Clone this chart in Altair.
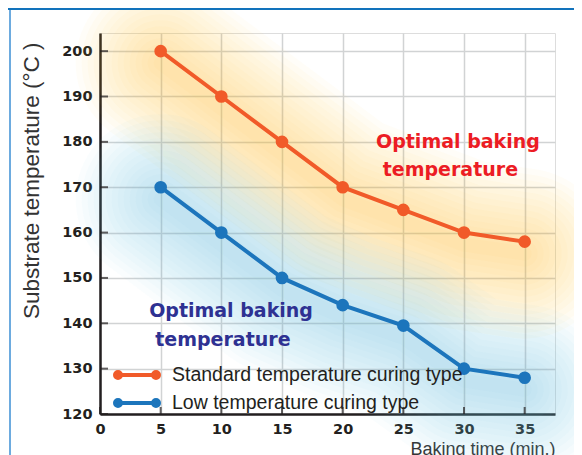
import altair as alt
import pandas as pd

# ---- data ----
time_min = [5, 10, 15, 20, 25, 30, 35]
standard_temp = [200, 190, 180, 170, 165, 160, 158]
low_temp = [170, 160, 150, 144, 139.5, 130, 128]
series_names = ["Standard temperature curing type", "Low temperature curing type"]
series_colors = ["#f15a29", "#1c75bc"]

x_ticks = [0, 5, 10, 15, 20, 25, 30, 35]
y_ticks = [120, 130, 140, 150, 160, 170, 180, 190, 200]

ann_text = ["Optimal baking", "temperature", "Optimal baking", "temperature"]
ann_x = [22.75, 23.3, 4.05, 4.55]
ann_y = [180.0, 173.9, 142.6, 136.4]
ann_color = ["#ec1c24", "#ec1c24", "#2e3192", "#2e3192"]

rows = []
for t, s in zip(time_min, standard_temp):
    rows.append({"time": t, "temp": s, "series": series_names[0]})
for t, s in zip(time_min, low_temp):
    rows.append({"time": t, "temp": s, "series": series_names[1]})
df = pd.DataFrame(rows)
ann = pd.DataFrame({"x": ann_x, "y": ann_y, "text": ann_text, "c": ann_color})
xt = pd.DataFrame({"v": x_ticks})
yt = pd.DataFrame({"v": y_ticks})

W, H = 455, 381
xs = alt.Scale(domain=[0, 37.5], nice=False, zero=False)
ys = alt.Scale(domain=[120, 204], nice=False, zero=False)
cs = alt.Scale(domain=series_names, range=series_colors)

x_axis = alt.Axis(
    values=x_ticks, title="Baking time (min.)", grid=True, gridColor="#d1d3d4", gridWidth=1.5,
    domainColor="#231f20", domainWidth=2.5, ticks=False,
    labelFont="DejaVu Sans", labelFontWeight="bold", labelFontSize=14.5, labelColor="#231f20",
    labelPadding=8, labelFlush=False,
    titleFont="Liberation Sans", titleFontSize=18, titleFontWeight="normal", titleColor="#333333",
    titleAnchor="end", titleAlign="right", titleBaseline="alphabetic", titleX=W, titleY=40,
)
y_axis = alt.Axis(
    values=y_ticks, title="Substrate temperature (°C )", grid=True, gridColor="#d1d3d4", gridWidth=1.5,
    domainColor="#231f20", domainWidth=2.5, ticks=False,
    labelFont="DejaVu Sans", labelFontWeight="bold", labelFontSize=14.5, labelColor="#231f20",
    labelPadding=8,
    titleFont="Liberation Sans", titleFontSize=22.5, titleFontWeight="normal", titleColor="#333333",
    titleAngle=-90, titleAlign="right", titleBaseline="top", titleAnchor="end", titleX=-80, titleY=9,
)

base = alt.Chart(df)

# soft glows around each line (many faint, widening strokes)
glows = []
glow_cfg = [(series_names[0], "#ffd23c", 12), (series_names[1], "#6dbbec", 12)]
for name, col, off in glow_cfg:
    for w in range(170, 10, -12):
        glows.append(
            base.transform_filter(alt.datum.series == name)
            .mark_line(color=col, strokeWidth=w, opacity=0.034, strokeCap="round", strokeJoin="round", yOffset=off)
            .encode(x=alt.X("time:Q", scale=xs, axis=x_axis), y=alt.Y("temp:Q", scale=ys, axis=y_axis))
        )

# inward tick marks
x_tick_marks = alt.Chart(xt).mark_tick(orient="vertical", size=7, thickness=2, yOffset=-3.5, color="#231f20").encode(
    x=alt.X("v:Q", scale=xs), y=alt.datum(120)
)
y_tick_marks = alt.Chart(yt).mark_tick(orient="horizontal", size=8, thickness=2, xOffset=4, color="#231f20").encode(
    y=alt.Y("v:Q", scale=ys), x=alt.datum(0)
)

sym_path = (
    "M-1.9,0L1.9,0 "
    "M-1.6,0A0.3,0.3 0 1,0 -2.2,0A0.3,0.3 0 1,0 -1.6,0 "
    "M-1.78,0A0.12,0.12 0 1,0 -2.02,0A0.12,0.12 0 1,0 -1.78,0 "
    "M2.2,0A0.3,0.3 0 1,0 1.6,0A0.3,0.3 0 1,0 2.2,0 "
    "M2.02,0A0.12,0.12 0 1,0 1.78,0A0.12,0.12 0 1,0 2.02,0"
)

lines = base.mark_line(strokeWidth=4).encode(
    x=alt.X("time:Q", scale=xs, axis=x_axis),
    y=alt.Y("temp:Q", scale=ys, axis=y_axis),
    color=alt.Color(
        "series:N", scale=cs, sort=series_names,
        legend=alt.Legend(
            orient="none", legendX=25, legendY=330, title=None,
            symbolType=sym_path, symbolSize=400, symbolStrokeWidth=4, symbolOpacity=1,
            labelFont="Liberation Sans", labelFontSize=19.5, labelColor="#231f20",
            labelOffset=23, rowPadding=5, labelLimit=500,
        ),
    ),
)
points = base.mark_point(filled=True, size=160, opacity=1).encode(
    x="time:Q", y="temp:Q",
    color=alt.Color("series:N", scale=cs, legend=None),
)

labels = alt.Chart(ann).mark_text(font="DejaVu Sans", fontWeight="bold", fontSize=19, baseline="middle", align="left").encode(
    x="x:Q", y="y:Q", text="text:N", color=alt.Color("c:N", scale=None)
)

frame_df = pd.DataFrame({"k": [0]})
header = alt.Chart(frame_df).mark_rect(color="#1273bc").encode(
    x=alt.value(-92), x2=alt.value(W + 19), y=alt.value(-25), y2=alt.value(-23)
)
left_line = alt.Chart(frame_df).mark_rule(color="#3d8fd4", strokeWidth=1.5).encode(
    x=alt.value(-90), y=alt.value(-23), y2=alt.value(H + 45)
)

chart = alt.layer(*glows, x_tick_marks, y_tick_marks, lines, points, labels, header, left_line).properties(
    width=W, height=H,
    padding={"left": 92, "top": 25, "right": 19, "bottom": 41},
    autosize=alt.AutoSizeParams(type="none"),
).configure_view(stroke=None).configure(background="white")

chart.save("out.html", embed_options={"renderer": "svg", "actions": False})
